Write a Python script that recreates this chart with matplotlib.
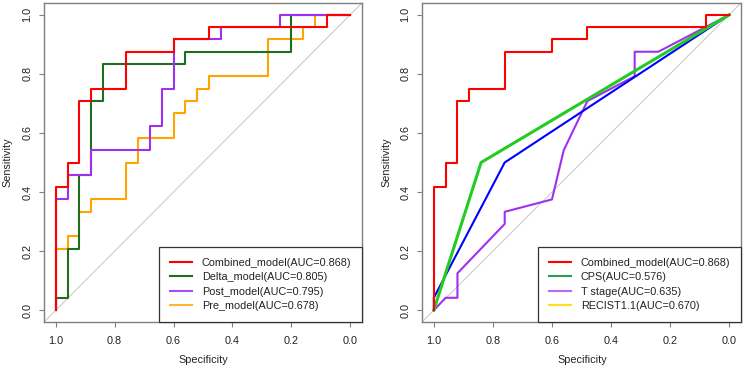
import numpy as np
import matplotlib
matplotlib.use('Agg')
import matplotlib.pyplot as plt
from matplotlib.lines import Line2D

plt.rcParams['font.family'] = ['Liberation Sans', 'DejaVu Sans']

# ROC coordinates (specificity, sensitivity)
combined_spec = [1, 1, 0.96, 0.96, 0.92, 0.92, 0.88, 0.88, 0.76, 0.76, 0.6, 0.6, 0.48, 0.48, 0.08, 0.08, 0]
combined_sens = [0, 0.417, 0.417, 0.5, 0.5, 0.708, 0.708, 0.75, 0.75, 0.875, 0.875, 0.917, 0.917, 0.958, 0.958, 1, 1]

delta_spec = [1, 1, 0.96, 0.96, 0.92, 0.92, 0.88, 0.88, 0.84, 0.84, 0.56, 0.56, 0.2, 0.2, 0]
delta_sens = [0, 0.042, 0.042, 0.208, 0.208, 0.458, 0.458, 0.708, 0.708, 0.833, 0.833, 0.875, 0.875, 1, 1]

post_spec = [1, 1, 0.96, 0.96, 0.88, 0.88, 0.68, 0.68, 0.64, 0.64, 0.6, 0.6, 0.44, 0.44, 0.24, 0.24, 0]
post_sens = [0, 0.375, 0.375, 0.458, 0.458, 0.542, 0.542, 0.625, 0.625, 0.75, 0.75, 0.917, 0.917, 0.958, 0.958, 1, 1]

pre_spec = [1, 1, 0.96, 0.96, 0.92, 0.92, 0.88, 0.88, 0.76, 0.76, 0.72, 0.72, 0.6, 0.6,
            0.56, 0.56, 0.52, 0.52, 0.48, 0.48, 0.28, 0.28, 0.16, 0.16, 0.12, 0.12, 0]
pre_sens = [0, 0.208, 0.208, 0.25, 0.25, 0.333, 0.333, 0.375, 0.375, 0.5, 0.5, 0.583, 0.583, 0.667,
            0.667, 0.708, 0.708, 0.75, 0.75, 0.792, 0.792, 0.917, 0.917, 0.958, 0.958, 1, 1]

cps_spec = [1, 0.96, 0.92, 0.92, 0.76, 0.76, 0.6, 0.56, 0.48, 0.32, 0.32, 0.24, 0]
cps_sens = [0, 0.042, 0.042, 0.125, 0.292, 0.333, 0.375, 0.542, 0.708, 0.792, 0.875, 0.875, 1]

tstage_spec = [1, 1, 0.76, 0]
tstage_sens = [0, 0.042, 0.5, 1]

recist_spec = [1, 0.84, 0]
recist_sens = [0, 0.5, 1]

left_labels = ['Combined_model(AUC=0.868)', 'Delta_model(AUC=0.805)',
               'Post_model(AUC=0.795)', 'Pre_model(AUC=0.678)']
right_labels = ['Combined_model(AUC=0.868)', 'CPS(AUC=0.576)',
                'T stage(AUC=0.635)', 'RECIST1.1(AUC=0.670)']
ticks = [1.0, 0.8, 0.6, 0.4, 0.2, 0.0]

FS = 7.8
GREY = '#7f7f7f'

fig = plt.figure(figsize=(7.44, 3.68), dpi=100)
ax1 = fig.add_axes([44/744, 46/368, 318/744, 319/368])
ax2 = fig.add_axes([422/744, 46/368, 319/744, 319/368])


def style(ax, cx):
    ax.set_xlim(1.04, -0.04)
    ax.set_ylim(-0.04, 1.04)
    ax.axline((1, 0), (0, 1), color='#cccccc', lw=0.8, zorder=1)
    for s in ax.spines.values():
        s.set_color(GREY)
        s.set_linewidth(1.0)
    ax.set_xticks(ticks)
    ax.set_yticks(ticks)
    ax.set_xticklabels(['%.1f' % t for t in ticks])
    ax.set_yticklabels(['%.1f' % t for t in ticks], rotation=90, va='center')
    ax.tick_params(direction='out', length=3.8, width=0.8, color=GREY,
                   labelsize=FS, labelcolor='#222222')
    ax.tick_params(axis='x', pad=6)
    ax.tick_params(axis='y', pad=4.5)
    fig.text(cx / 744, 1 - 360/368, 'Specificity', ha='center', va='center',
             fontsize=FS, color='#222222')


style(ax1, 203)
fig.text(7/744, 1 - 162/368, 'Sensitivity', rotation=90, ha='center', va='center',
         fontsize=FS, color='#222222')
style(ax2, 582)
fig.text(386/744, 1 - 162/368, 'Sensitivity', rotation=90, ha='center', va='center',
         fontsize=FS, color='#222222')

# left panel
ax1.plot(pre_spec, pre_sens, color='#ffa500', lw=1.5, zorder=2)
ax1.plot(delta_spec, delta_sens, color='#1f6e1f', lw=1.5, zorder=3)
ax1.plot(post_spec, post_sens, color='#a030f0', lw=1.5, zorder=4)
ax1.plot(combined_spec, combined_sens, color='#ff0000', lw=1.5, zorder=5)

h1 = [Line2D([], [], color=c, lw=1.5) for c in ['#ff0000', '#1f6e1f', '#a64dff', '#ffb733']]

# right panel
ax2.plot(cps_spec, cps_sens, color='#a030f0', lw=1.5, zorder=2)
ax2.plot(tstage_spec, tstage_sens, color='#0000ff', lw=1.5, zorder=3)
ax2.plot(recist_spec, recist_sens, color='#22cc22', lw=2.2, zorder=4)
ax2.plot(combined_spec, combined_sens, color='#ff0000', lw=1.5, zorder=5)

h2 = [Line2D([], [], color=c, lw=1.5) for c in ['#ff0000', '#2e9a4a', '#c266f0', '#ffdd22']]

for ax, h, lab in [(ax1, h1, left_labels), (ax2, h2, right_labels)]:
    leg = ax.legend(h, lab, loc='lower right', borderaxespad=0, fontsize=FS,
                    frameon=True, fancybox=False, framealpha=1, edgecolor='#333333',
                    handlelength=2.0, handletextpad=0.9, borderpad=1.0, labelspacing=0.42)
    leg.get_frame().set_linewidth(0.9)
    for t in leg.get_texts():
        t.set_color('#222222')
    leg.set_zorder(10)

fig.savefig('out.png', dpi=100)
